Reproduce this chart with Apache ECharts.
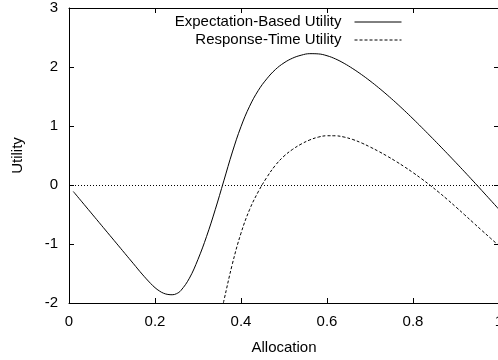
<!DOCTYPE html>
<html>
<head>
<meta charset="utf-8">
<script src="https://cdn.jsdelivr.net/npm/echarts@6/dist/echarts.min.js"></script>
<style>
  html, body { margin: 0; padding: 0; background: #fff; }
  #chart { width: 498px; height: 360px; }
</style>
</head>
<body>
<div id="chart"></div>
<script>
// Utility curves against allocation share
const seriesNames = ['Expectation-Based Utility', 'Response-Time Utility'];

const expectationX = [0.01, 0.03, 0.05, 0.07, 0.09, 0.11, 0.13, 0.15, 0.17, 0.19, 0.20, 0.21, 0.22, 0.23,
  0.24, 0.25, 0.26, 0.28, 0.30, 0.32, 0.34, 0.36, 0.38, 0.40, 0.42, 0.44, 0.46, 0.48, 0.50, 0.52,
  0.54, 0.56, 0.58, 0.60, 0.62, 0.64, 0.66, 0.68, 0.70, 0.72, 0.74, 0.76, 0.78, 0.80, 0.82, 0.84,
  0.86, 0.88, 0.90, 0.92, 0.94, 0.96, 0.98, 1.00];
const expectationY = [-0.11, -0.285, -0.46, -0.635, -0.81, -0.985, -1.16, -1.335, -1.51, -1.67, -1.74, -1.795, -1.835, -1.855,
  -1.86, -1.842, -1.79, -1.58, -1.26, -0.87, -0.42, 0.07, 0.56, 0.99, 1.335, 1.60, 1.80, 1.957, 2.07, 2.15,
  2.20, 2.226, 2.222, 2.191, 2.136, 2.061, 1.972, 1.873, 1.765, 1.649, 1.526, 1.397, 1.262, 1.122, 0.978, 0.831,
  0.682, 0.531, 0.378, 0.223, 0.066, -0.093, -0.253, -0.413];

const responseX = [0.359, 0.36, 0.38, 0.40, 0.42, 0.44, 0.46, 0.48, 0.50, 0.52, 0.54, 0.56, 0.58,
  0.60, 0.62, 0.64, 0.66, 0.68, 0.70, 0.72, 0.74, 0.76, 0.78, 0.80, 0.82, 0.84, 0.86, 0.88, 0.90,
  0.92, 0.94, 0.96, 0.98, 1.00];
const responseY = [-2.0, -1.966, -1.336, -0.816, -0.416, -0.116, 0.129, 0.334, 0.489, 0.604, 0.694, 0.764, 0.812,
  0.835, 0.834, 0.812, 0.771, 0.714, 0.645, 0.570, 0.489, 0.402, 0.309, 0.210, 0.105, -0.006, -0.123, -0.246, -0.374,
  -0.505, -0.638, -0.77, -0.90, -1.03];

const xTicks = { min: 0, max: 1, interval: 0.2 };
const yTicks = { min: -2, max: 3, interval: 1 };

const zip = (xs, ys) => xs.map((x, i) => [x, ys[i]]);

const font = 'Liberation Sans, Arial, Helvetica, sans-serif';
const black = '#000';

const tickStyle = { show: true, inside: true, length: 5, lineStyle: { color: black, width: 1 } };
const lineStyleAxis = { show: true, onZero: false, lineStyle: { color: black, width: 1 } };

const chart = echarts.init(document.getElementById('chart'), null, { renderer: 'canvas' });
chart.setOption({
  animation: false,
  backgroundColor: '#fff',
  textStyle: { fontFamily: font, color: black },
  grid: { left: 69, top: 8, width: 430, height: 295, containLabel: false, outerBoundsMode: 'none' },
  legend: {
    orient: 'vertical',
    right: 96,
    top: 13,
    padding: 0,
    itemGap: 0,
    align: 'right',
    itemWidth: 47,
    itemHeight: 10,
    selectedMode: false,
    itemStyle: { opacity: 0 },
    lineStyle: { width: 1 },
    textStyle: { fontFamily: font, fontSize: 15, color: black, lineHeight: 18, padding: [0, 8, 0, 0] },
    data: seriesNames
  },
  xAxis: [
    {
      type: 'value', position: 'bottom',
      min: xTicks.min, max: xTicks.max, interval: xTicks.interval,
      name: 'Allocation', nameLocation: 'middle', nameGap: 37,
      nameTextStyle: { fontFamily: font, fontSize: 15, color: black },
      axisLine: lineStyleAxis, axisTick: tickStyle,
      axisLabel: { fontFamily: font, fontSize: 15, color: black, margin: 11, hideOverlap: false },
      splitLine: { show: false }
    },
    {
      type: 'value', position: 'top',
      min: xTicks.min, max: xTicks.max, interval: xTicks.interval,
      axisLine: lineStyleAxis, axisTick: tickStyle,
      axisLabel: { show: false }, splitLine: { show: false }
    }
  ],
  yAxis: [
    {
      type: 'value', position: 'left',
      min: yTicks.min, max: yTicks.max, interval: yTicks.interval,
      name: 'Utility', nameLocation: 'middle', nameGap: 44,
      nameTextStyle: { fontFamily: font, fontSize: 15, color: black },
      axisLine: lineStyleAxis, axisTick: tickStyle,
      axisLabel: { fontFamily: font, fontSize: 15, color: black, margin: 11 },
      splitLine: { show: false }
    },
    {
      type: 'value', position: 'right',
      min: yTicks.min, max: yTicks.max, interval: yTicks.interval,
      axisLine: lineStyleAxis, axisTick: tickStyle,
      axisLabel: { show: false }, splitLine: { show: false }
    }
  ],
  series: [
    {
      name: seriesNames[0],
      type: 'line',
      smooth: 0.4,
      symbol: 'none',
      data: zip(expectationX, expectationY),
      lineStyle: { color: black, width: 1, type: 'solid' },
      itemStyle: { color: black },
      markLine: {
        silent: true,
        symbol: 'none',
        label: { show: false },
        lineStyle: { color: black, width: 1, type: [1, 2] },
        data: [{ yAxis: 0 }]
      },
      z: 3
    },
    {
      name: seriesNames[1],
      type: 'line',
      smooth: 0.4,
      symbol: 'none',
      clip: true,
      data: zip(responseX, responseY),
      lineStyle: { color: black, width: 1, type: [3, 2] },
      itemStyle: { color: black },
      z: 3
    }
  ]
});
</script>
</body>
</html>
